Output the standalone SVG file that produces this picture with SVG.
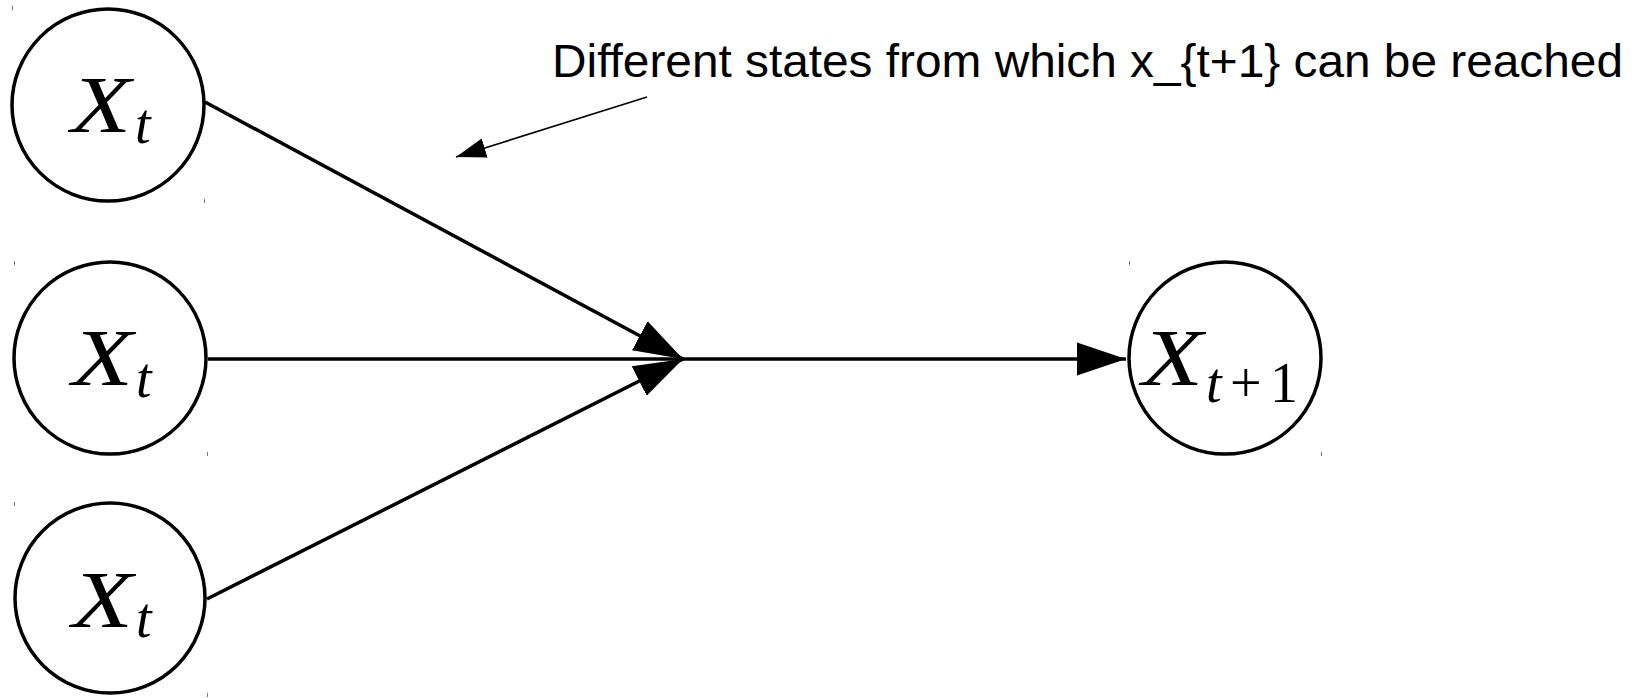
<svg xmlns="http://www.w3.org/2000/svg" width="1650" height="698" viewBox="0 0 1650 698">
  <style>
    .node { fill: #ffffff; stroke: #000000; stroke-width: 3.5; }
    .edge { stroke: #000000; stroke-width: 3.5; fill: none; }
    .note-edge { stroke: #000000; stroke-width: 1.6; fill: none; }
    .math { font-family: "Liberation Serif", "DejaVu Serif", serif; fill: #000000; }
    .it { font-style: italic; }
    .label { font-family: "Liberation Sans", Arial, sans-serif; font-size: 46px; fill: #000000; }
    .tick { stroke: #777777; stroke-width: 1; }
  </style>
  <defs>
    <marker id="bigArrow" markerUnits="userSpaceOnUse" markerWidth="52" markerHeight="36" refX="49" refY="17" orient="auto">
      <path d="M0,0.5 L49,17 L0,33.5 Z" fill="#000000"/>
    </marker>
    <marker id="smallArrow" markerUnits="userSpaceOnUse" markerWidth="32" markerHeight="22" refX="30" refY="10" orient="auto">
      <path d="M0,0 L30,10 L0,20 Z" fill="#000000"/>
    </marker>
  </defs>
  <rect width="1650" height="698" fill="#ffffff"/>

  <g id="connectors">
    <line class="edge" x1="205" y1="102" x2="683" y2="359" marker-end="url(#bigArrow)"/>
    <line class="edge" x1="207" y1="599" x2="683" y2="359" marker-end="url(#bigArrow)"/>
    <line class="edge" x1="208" y1="359" x2="1126" y2="359" marker-end="url(#bigArrow)"/>
    <line class="note-edge" x1="647" y1="97" x2="456" y2="157" marker-end="url(#smallArrow)"/>
  </g>

  <g id="node-xt-1">
    <circle class="node" cx="108" cy="105" r="96"/>
    <text class="math it" x="71" y="132" font-size="80" textLength="60" lengthAdjust="spacingAndGlyphs">X</text>
    <text class="math it" x="135" y="143" font-size="56">t</text>
    <line class="tick" x1="12.5" y1="6" x2="12.5" y2="10"/>
    <line class="tick" x1="204.5" y1="199" x2="204.5" y2="203"/>
  </g>

  <g id="node-xt-2">
    <circle class="node" cx="110" cy="358" r="96"/>
    <text class="math it" x="72" y="385" font-size="80" textLength="61" lengthAdjust="spacingAndGlyphs">X</text>
    <text class="math it" x="136" y="397" font-size="56">t</text>
    <line class="tick" x1="14.5" y1="261" x2="14.5" y2="265"/>
    <line class="tick" x1="207.5" y1="452" x2="207.5" y2="456"/>
  </g>

  <g id="node-xt-3">
    <circle class="node" cx="110" cy="598" r="95"/>
    <text class="math it" x="72" y="627" font-size="80" textLength="61" lengthAdjust="spacingAndGlyphs">X</text>
    <text class="math it" x="136" y="637" font-size="56">t</text>
    <line class="tick" x1="14.5" y1="502" x2="14.5" y2="506"/>
    <line class="tick" x1="207.5" y1="693" x2="207.5" y2="697"/>
  </g>

  <g id="node-xt1">
    <circle class="node" cx="1225" cy="358" r="96"/>
    <text class="math it" x="1142" y="385" font-size="80" textLength="61" lengthAdjust="spacingAndGlyphs">X</text>
    <text class="math" y="402" font-size="56"><tspan class="it" x="1206">t</tspan><tspan x="1230">+</tspan><tspan x="1270">1</tspan></text>
    <line class="tick" x1="1129.5" y1="261" x2="1129.5" y2="265"/>
    <line class="tick" x1="1321.5" y1="452" x2="1321.5" y2="456"/>
  </g>

  <g id="annotation">
    <text class="label" x="552" y="77" textLength="1071" lengthAdjust="spacingAndGlyphs">Different states from which x_{t+1} can be reached</text>
  </g>
</svg>
